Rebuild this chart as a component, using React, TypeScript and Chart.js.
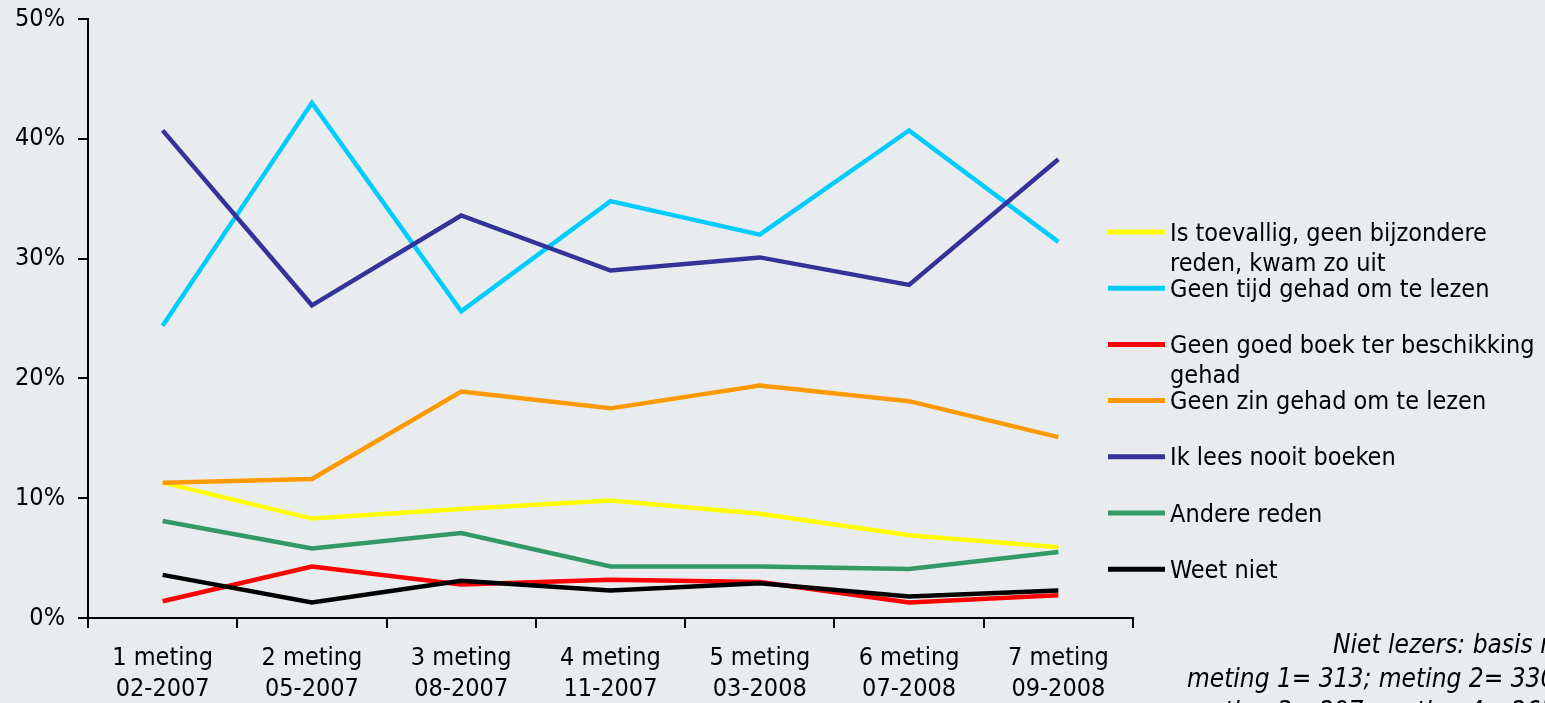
import React, { useEffect, useRef } from "react";
import { Chart, registerables } from "chart.js";

Chart.register(...registerables);

const categories: string[][] = [
  ["1 meting", "02-2007"],
  ["2 meting", "05-2007"],
  ["3 meting", "08-2007"],
  ["4 meting", "11-2007"],
  ["5 meting", "03-2008"],
  ["6 meting", "07-2008"],
  ["7 meting", "09-2008"],
];

const seriesLabels = [
  "Is toevallig, geen bijzondere reden, kwam zo uit",
  "Geen tijd gehad om te lezen",
  "Geen goed boek ter beschikking gehad",
  "Geen zin gehad om te lezen",
  "Ik lees nooit boeken",
  "Andere reden",
  "Weet niet",
];

const toevallig = [11.3, 8.3, 9.1, 9.8, 8.7, 6.9, 5.9];
const geenTijd = [24.4, 43.0, 25.6, 34.8, 32.0, 40.7, 31.4];
const geenGoedBoek = [1.4, 4.3, 2.8, 3.2, 3.0, 1.3, 1.9];
const geenZin = [11.3, 11.6, 18.9, 17.5, 19.4, 18.1, 15.1];
const nooitBoeken = [40.7, 26.1, 33.6, 29.0, 30.1, 27.8, 38.3];
const andereReden = [8.1, 5.8, 7.1, 4.3, 4.3, 4.1, 5.5];
const weetNiet = [3.6, 1.3, 3.1, 2.3, 2.9, 1.8, 2.3];

const seriesValues = [toevallig, geenTijd, geenGoedBoek, geenZin, nooitBoeken, andereReden, weetNiet];
const seriesColors = ["#FFFF00", "#00CCFF", "#FF0000", "#FF9900", "#333399", "#339966", "#000000"];

const yTicks = [0, 10, 20, 30, 40, 50];

const noteLines = [
  "Niet lezers: basis n=",
  "meting 1= 313; meting 2= 330;",
  "meting 3= 297; meting 4= 265;",
];

const FONT = "'DejaVu Sans Condensed', 'DejaVu Sans', sans-serif";
const BG = "#E9ECEE";

const bgPlugin = {
  id: "bg",
  beforeDraw(chart: any) {
    const ctx = chart.ctx;
    ctx.save();
    ctx.fillStyle = BG;
    ctx.fillRect(0, 0, chart.width, chart.height);
    ctx.restore();
  },
};

function wrap(ctx: CanvasRenderingContext2D, text: string, maxW: number): string[] {
  const words = text.split(" ");
  const lines: string[] = [];
  let cur = "";
  for (const w of words) {
    const t = cur ? cur + " " + w : w;
    if (ctx.measureText(t).width > maxW && cur) {
      lines.push(cur);
      cur = w;
    } else cur = t;
  }
  if (cur) lines.push(cur);
  return lines;
}

const legendPlugin = {
  id: "customLegend",
  afterDraw(chart: any) {
    const ctx: CanvasRenderingContext2D = chart.ctx;
    ctx.save();
    ctx.font = `25px ${FONT}`;
    ctx.textBaseline = "middle";
    ctx.textAlign = "left";
    chart.data.datasets.forEach((ds: any, i: number) => {
      const y = 232 + i * 56.2;
      ctx.strokeStyle = ds.borderColor;
      ctx.lineWidth = 5;
      ctx.beginPath();
      ctx.moveTo(1108, y);
      ctx.lineTo(1165, y);
      ctx.stroke();
      ctx.fillStyle = "#000";
      const lines = wrap(ctx, ds.label, 388);
      lines.forEach((l, k) => ctx.fillText(l, 1170, y + 2 + k * 30));
    });
    ctx.font = `italic 26px ${FONT}`;
    ctx.fillText(noteLines[0], 1333, 646);
    ctx.fillText(noteLines[1], 1187, 680);
    ctx.fillText(noteLines[2], 1187, 713);
    ctx.restore();
  },
};

export default function App() {
  const ref = useRef<HTMLCanvasElement | null>(null);
  useEffect(() => {
    document.body.style.margin = "0";
    const chart = new Chart(ref.current as HTMLCanvasElement, {
      type: "line",
      data: {
        labels: categories as any,
        datasets: seriesLabels.map((label, i) => ({
          label,
          data: seriesValues[i],
          borderColor: seriesColors[i],
          backgroundColor: seriesColors[i],
          borderWidth: 4.5,
          pointRadius: 0,
          tension: 0,
          order: seriesLabels.length - i,
        })),
      },
      options: {
        responsive: false,
        animation: false,
        layout: { padding: { top: 19, right: 412, left: 0, bottom: 0 } },
        plugins: { legend: { display: false }, tooltip: { enabled: false } },
        scales: {
          x: {
            offset: true,
            grid: {
              offset: true,
              drawOnChartArea: false,
              drawTicks: true,
              tickLength: 10,
              color: "#000",
              lineWidth: 2,
            },
            border: { display: true, color: "#000", width: 2 },
            ticks: {
              color: "#000",
              font: { family: FONT, size: 25, lineHeight: 1.24 },
              padding: 15,
              maxRotation: 0,
              autoSkip: false,
            },
            afterFit(scale: any) {
              scale.height = 85;
              scale.paddingLeft = 0;
              scale.paddingRight = 0;
            },
          },
          y: {
            min: 0,
            max: 50,
            afterBuildTicks(scale: any) {
              scale.ticks = yTicks.map((v) => ({ value: v }));
            },
            grid: {
              drawOnChartArea: false,
              drawTicks: true,
              tickLength: 10,
              color: "#000",
              lineWidth: 2,
            },
            border: { display: true, color: "#000", width: 2 },
            ticks: {
              color: "#000",
              font: { family: FONT, size: 25 },
              padding: 13,
              callback: (v: any) => v + "%",
            },
            afterFit(scale: any) {
              scale.width = 88;
              scale.paddingTop = 0;
              scale.paddingBottom = 0;
            },
          },
        },
      },
      plugins: [bgPlugin, legendPlugin],
    });
    return () => chart.destroy();
  }, []);
  return (
    <div style={{ width: 1545, height: 703, background: BG }}>
      <canvas ref={ref} width={1545} height={703} style={{ display: "block" }} />
    </div>
  );
}
